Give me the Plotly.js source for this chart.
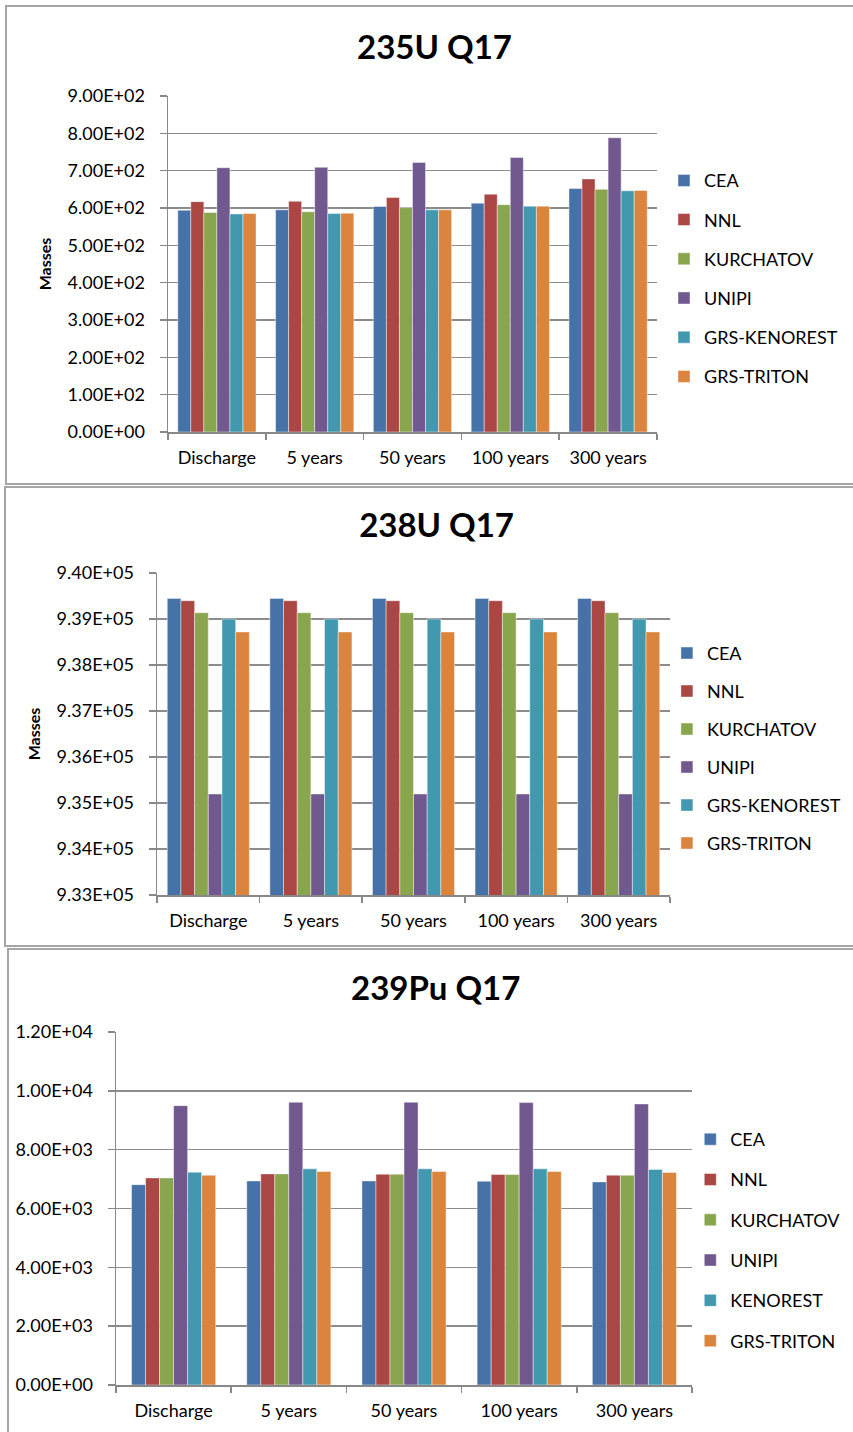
<!DOCTYPE html>
<html>
<head>
<meta charset="utf-8">
<script src="https://cdn.plot.ly/plotly-3.0.1.min.js"></script>
<style>
  html, body { margin: 0; padding: 0; background: #fff; width: 853px; height: 1432px; overflow: hidden; }
  .plot { position: absolute; left: 0; width: 853px; }
  .box { position: absolute; border: 2px solid #a6a6a6; box-sizing: border-box; }
</style>
</head>
<body>
<div class="box" style="left:5px; top:5px; width:900px; height:480px;"></div>
<div class="box" style="left:4px; top:486px; width:900px; height:461px;"></div>
<div class="box" style="left:7px; top:948px; width:900px; height:520px;"></div>
<div id="c1" class="plot" style="top:0px; height:486px;"></div>
<div id="c2" class="plot" style="top:486px; height:462px;"></div>
<div id="c3" class="plot" style="top:948px; height:484px;"></div>
<script>
// ---- data ----
const categories = ["Discharge", "5 years", "50 years", "100 years", "300 years"];
const colors = ["#4672A8", "#AA4643", "#89A54E", "#71588F", "#4198AF", "#DB843D"];

const series1Names = ["CEA", "NNL", "KURCHATOV", "UNIPI", "GRS-KENOREST", "GRS-TRITON"];
const u235_CEA     = [594, 595, 604, 613, 652];
const u235_NNL     = [617, 618, 628, 637, 678];
const u235_KURCH   = [588, 590, 601, 609, 650];
const u235_UNIPI   = [708, 709, 722, 735, 788];
const u235_KENO    = [584, 585, 595, 605, 646];
const u235_TRITON  = [585, 586, 595, 605, 647];

const series2Names = ["CEA", "NNL", "KURCHATOV", "UNIPI", "GRS-KENOREST", "GRS-TRITON"];
const u238_CEA     = [939448, 939448, 939448, 939448, 939448];
const u238_NNL     = [939397, 939397, 939397, 939397, 939397];
const u238_KURCH   = [939137, 939137, 939137, 939137, 939137];
const u238_UNIPI   = [935196, 935196, 935196, 935196, 935196];
const u238_KENO    = [939000, 939000, 939000, 939000, 939000];
const u238_TRITON  = [938718, 938718, 938718, 938718, 938718];

const series3Names = ["CEA", "NNL", "KURCHATOV", "UNIPI", "KENOREST", "GRS-TRITON"];
const pu239_CEA    = [6811, 6937, 6937, 6926, 6903];
const pu239_NNL    = [7040, 7177, 7166, 7154, 7131];
const pu239_KURCH  = [7040, 7177, 7166, 7154, 7131];
const pu239_UNIPI  = [9497, 9611, 9611, 9600, 9554];
const pu239_KENO   = [7234, 7349, 7349, 7349, 7326];
const pu239_TRITON = [7131, 7257, 7257, 7257, 7223];

const yTicks1 = [0, 100, 200, 300, 400, 500, 600, 700, 800, 900];
const yLabels1 = ["0.00E+00","1.00E+02","2.00E+02","3.00E+02","4.00E+02","5.00E+02","6.00E+02","7.00E+02","8.00E+02","9.00E+02"];
const yTicks2 = [933000, 934000, 935000, 936000, 937000, 938000, 939000, 940000];
const yLabels2 = ["9.33E+05","9.34E+05","9.35E+05","9.36E+05","9.37E+05","9.38E+05","9.39E+05","9.40E+05"];
const yTicks3 = [0, 2000, 4000, 6000, 8000, 10000, 12000];
const yLabels3 = ["0.00E+00","2.00E+03","4.00E+03","6.00E+03","8.00E+03","1.00E+04","1.20E+04"];

// ---- drawing ----
const FONT = "Lato, 'Open Sans', sans-serif";
const FS = 18;

function makeTraces(names, arrays) {
  return arrays.map((vals, i) => ({
    type: "bar",
    x: categories,
    y: vals,
    name: names[i],
    legendgroup: "g" + i,
    marker: { color: colors[i], line: { color: "rgba(255,255,255,0.55)", width: 0.8 } },
    hoverinfo: "skip"
  }));
}

function makeLayout(opt) {
  const m = Object.assign({ autoexpand: false }, opt.margin);
  return {
    width: 853,
    height: opt.height,
    margin: m,
    paper_bgcolor: "rgba(0,0,0,0)",
    plot_bgcolor: "rgba(0,0,0,0)",
    font: { family: FONT, size: FS, color: "#000" },
    barmode: "group",
    bargap: opt.bargap,
    bargroupgap: 0,
    showlegend: true,
    title: {
      text: "<b>" + opt.title + "</b>",
      font: { family: FONT, size: 33, color: "#000" },
      x: opt.titleX, xref: "paper", xanchor: "center",
      y: 1 - opt.titleY / opt.height, yref: "container", yanchor: "middle"
    },
    legend: {
      x: opt.legX, y: opt.legY, xanchor: "left", yanchor: "top",
      font: { family: FONT, size: FS, color: "#000" },
      tracegroupgap: opt.legGap,
      bgcolor: "rgba(0,0,0,0)", borderwidth: 0,
      itemclick: false
    },
    xaxis: {
      type: "category",
      tickson: "boundaries",
      ticks: "outside", ticklen: 6, tickcolor: "#888", tickwidth: 1.5,
      showline: true, linecolor: "#888", linewidth: 1.5,
      showgrid: false, zeroline: false,
      ticklabelstandoff: 9,
      tickfont: { family: FONT, size: FS, color: "#000" },
      automargin: false,
      fixedrange: true
    },
    yaxis: {
      range: opt.yrange,
      tickmode: "array", tickvals: opt.yticks, ticktext: opt.ylabels,
      ticks: "outside", ticklen: 7, tickcolor: "#888", tickwidth: 1.5,
      showline: true, linecolor: "#888", linewidth: 1.5,
      showgrid: true, gridcolor: "#8c8c8c", gridwidth: 1.5,
      zeroline: false,
      ticklabelstandoff: 11,
      tickfont: { family: FONT, size: FS, color: "#000" },
      title: opt.ytitle ? { text: "<b>" + opt.ytitle + "</b>", font: { family: FONT, size: 16, color: "#000" }, standoff: 12 } : { text: "" },
      automargin: false,
      fixedrange: true
    }
  };
}

const cfg = { displayModeBar: false, staticPlot: true };

Plotly.newPlot("c1",
  makeTraces(series1Names, [u235_CEA, u235_NNL, u235_KURCH, u235_UNIPI, u235_KENO, u235_TRITON]),
  makeLayout({
    height: 486, margin: { l: 168, r: 196, t: 96, b: 54 },
    bargap: 0.2, title: "235U Q17", titleX: 0.545, titleY: 47,
    legX: 1.0143, legY: 0.803, legGap: 12.8,
    yrange: [0, 900], yticks: yTicks1, ylabels: yLabels1, ytitle: "Masses"
  }), cfg);

Plotly.newPlot("c2",
  makeTraces(series2Names, [u238_CEA, u238_NNL, u238_KURCH, u238_UNIPI, u238_KENO, u238_TRITON]),
  makeLayout({
    height: 462, margin: { l: 157, r: 183, t: 87, b: 53 },
    bargap: 0.2, title: "238U Q17", titleX: 0.545, titleY: 39,
    legX: 0.994, legY: 0.808, legGap: 11.6,
    yrange: [933000, 940000], yticks: yTicks2, ylabels: yLabels2, ytitle: "Masses"
  }), cfg);

Plotly.newPlot("c3",
  makeTraces(series3Names, [pu239_CEA, pu239_NNL, pu239_KURCH, pu239_UNIPI, pu239_KENO, pu239_TRITON]),
  makeLayout({
    height: 484, margin: { l: 116, r: 161, t: 84, b: 47 },
    bargap: 0.27, title: "239Pu Q17", titleX: 0.555, titleY: 40,
    legX: 0.997, legY: 0.748, legGap: 13.9,
    yrange: [0, 12000], yticks: yTicks3, ylabels: yLabels3, ytitle: null
  }), cfg);
</script>
</body>
</html>
